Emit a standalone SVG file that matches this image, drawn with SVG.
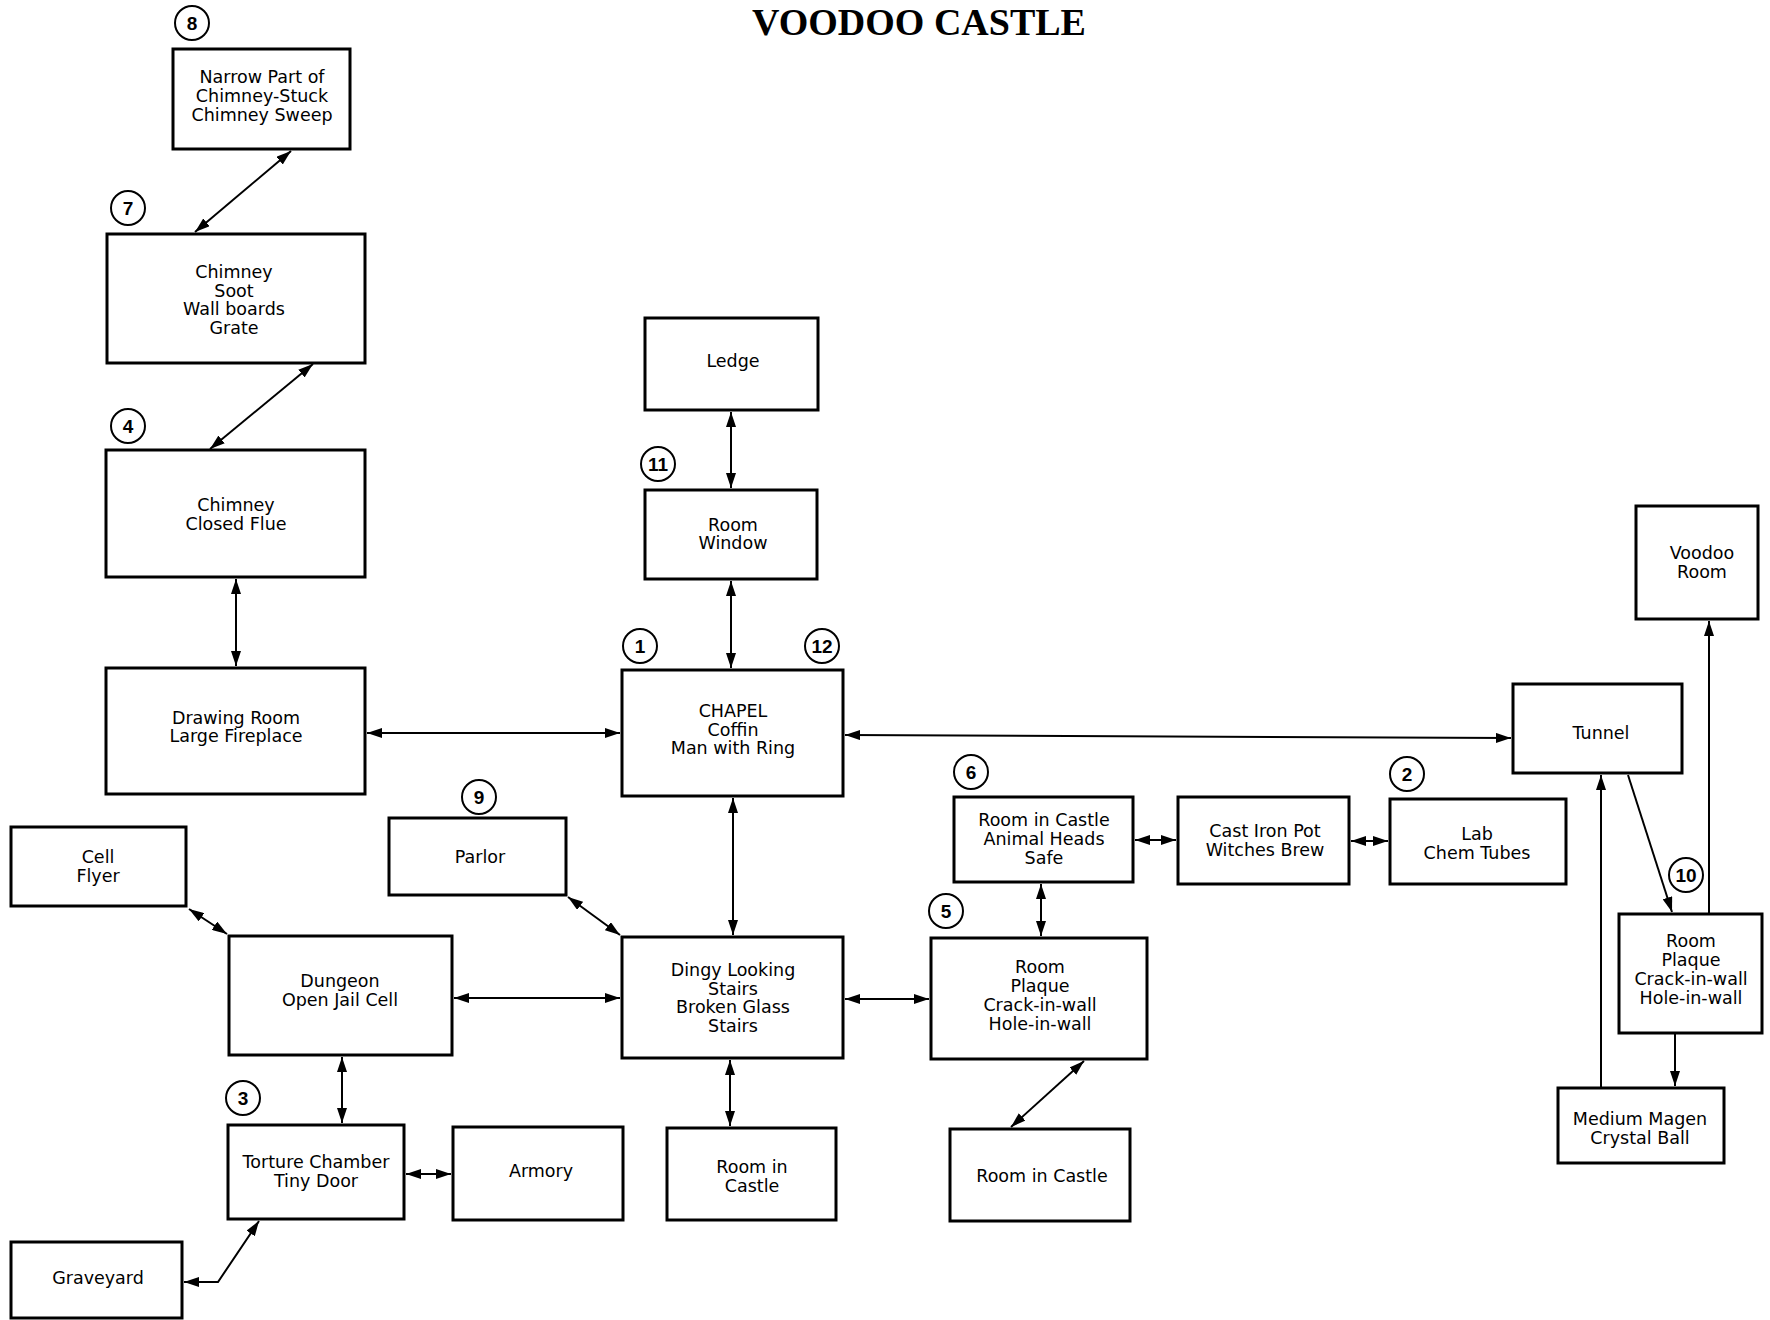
<svg xmlns="http://www.w3.org/2000/svg" width="1770" height="1320" viewBox="0 0 1770 1320">
<style>
.box{fill:#fff;stroke:#000;stroke-width:3}
.t{font-family:"DejaVu Sans","Liberation Sans",sans-serif;font-size:17.5px;fill:#000;text-anchor:middle}
.num{font-family:"Liberation Sans",Arial,sans-serif;font-size:19px;font-weight:bold;fill:#000;text-anchor:middle}
.c{fill:#fff;stroke:#000;stroke-width:2}
.ln{fill:none;stroke:#000;stroke-width:2}
.title{font-family:"Liberation Serif","Times New Roman",serif;font-size:38px;font-weight:bold;fill:#000;text-anchor:middle}
</style>
<defs>
<marker id="ah" markerUnits="userSpaceOnUse" markerWidth="15" markerHeight="10" viewBox="0 0 15 10" refX="15" refY="5" orient="auto-start-reverse">
<path d="M0,0 L15,5 L0,10 z" fill="#000"/>
</marker>
</defs>
<rect width="1770" height="1320" fill="#fff"/>
<text class="title" x="919" y="35">VOODOO CASTLE</text>

<g id="connectors">
<line class="ln" x1="291" y1="151" x2="195" y2="232" marker-start="url(#ah)" marker-end="url(#ah)"/>
<line class="ln" x1="313" y1="364" x2="210" y2="449" marker-start="url(#ah)" marker-end="url(#ah)"/>
<line class="ln" x1="236" y1="579" x2="236" y2="666" marker-start="url(#ah)" marker-end="url(#ah)"/>
<line class="ln" x1="367" y1="733" x2="620" y2="733" marker-start="url(#ah)" marker-end="url(#ah)"/>
<line class="ln" x1="731" y1="412" x2="731" y2="488" marker-start="url(#ah)" marker-end="url(#ah)"/>
<line class="ln" x1="731" y1="581" x2="731" y2="668" marker-start="url(#ah)" marker-end="url(#ah)"/>
<line class="ln" x1="845" y1="735" x2="1511" y2="738" marker-start="url(#ah)" marker-end="url(#ah)"/>
<line class="ln" x1="733" y1="798" x2="733" y2="935" marker-start="url(#ah)" marker-end="url(#ah)"/>
<line class="ln" x1="568" y1="897" x2="620" y2="935" marker-start="url(#ah)" marker-end="url(#ah)"/>
<line class="ln" x1="454" y1="998" x2="620" y2="998" marker-start="url(#ah)" marker-end="url(#ah)"/>
<line class="ln" x1="189" y1="909" x2="227" y2="934" marker-start="url(#ah)" marker-end="url(#ah)"/>
<line class="ln" x1="342" y1="1057" x2="342" y2="1123" marker-start="url(#ah)" marker-end="url(#ah)"/>
<line class="ln" x1="406" y1="1174" x2="451" y2="1174" marker-start="url(#ah)" marker-end="url(#ah)"/>
<polyline class="ln" points="259,1221 218,1282 184,1282" marker-start="url(#ah)" marker-end="url(#ah)"/>
<line class="ln" x1="730" y1="1060" x2="730" y2="1126" marker-start="url(#ah)" marker-end="url(#ah)"/>
<line class="ln" x1="845" y1="999" x2="929" y2="999" marker-start="url(#ah)" marker-end="url(#ah)"/>
<line class="ln" x1="1084" y1="1061" x2="1011" y2="1127" marker-start="url(#ah)" marker-end="url(#ah)"/>
<line class="ln" x1="1041" y1="884" x2="1041" y2="936" marker-start="url(#ah)" marker-end="url(#ah)"/>
<line class="ln" x1="1135" y1="840" x2="1176" y2="840" marker-start="url(#ah)" marker-end="url(#ah)"/>
<line class="ln" x1="1351" y1="841" x2="1388" y2="841" marker-start="url(#ah)" marker-end="url(#ah)"/>
<line class="ln" x1="1628" y1="775" x2="1672" y2="912" marker-end="url(#ah)"/>
<line class="ln" x1="1709" y1="914" x2="1709" y2="621" marker-end="url(#ah)"/>
<line class="ln" x1="1675" y1="1033" x2="1675" y2="1086" marker-end="url(#ah)"/>
<line class="ln" x1="1601" y1="1088" x2="1601" y2="775" marker-end="url(#ah)"/>
</g>

<g id="n8">
<circle class="c" cx="192" cy="23" r="17"/><text class="num" x="192" y="30">8</text>
<rect class="box" x="173" y="49" width="177" height="100"/>
<text class="t" x="262" y="83">Narrow Part of</text>
<text class="t" x="262" y="102">Chimney-Stuck</text>
<text class="t" x="262" y="121">Chimney Sweep</text>
</g>
<g id="n7">
<circle class="c" cx="128" cy="208" r="17"/><text class="num" x="128" y="215">7</text>
<rect class="box" x="107" y="234" width="258" height="129"/>
<text class="t" x="234" y="278">Chimney</text>
<text class="t" x="234" y="297">Soot</text>
<text class="t" x="234" y="315">Wall boards</text>
<text class="t" x="234" y="334">Grate</text>
</g>
<g id="n4">
<circle class="c" cx="128" cy="426" r="17"/><text class="num" x="128" y="433">4</text>
<rect class="box" x="106" y="450" width="259" height="127"/>
<text class="t" x="236" y="511">Chimney</text>
<text class="t" x="236" y="530">Closed Flue</text>
</g>
<g id="drawing">
<rect class="box" x="106" y="668" width="259" height="126"/>
<text class="t" x="236" y="724">Drawing Room</text>
<text class="t" x="236" y="742">Large Fireplace</text>
</g>
<g id="ledge">
<rect class="box" x="645" y="318" width="173" height="92"/>
<text class="t" x="733" y="367">Ledge</text>
</g>
<g id="n11">
<circle class="c" cx="658" cy="464" r="17"/><text class="num" x="658" y="471">11</text>
<rect class="box" x="645" y="490" width="172" height="89"/>
<text class="t" x="733" y="531">Room</text>
<text class="t" x="733" y="549">Window</text>
</g>
<g id="chapel">
<circle class="c" cx="640" cy="646" r="17"/><text class="num" x="640" y="653">1</text>
<circle class="c" cx="822" cy="646" r="17"/><text class="num" x="822" y="653">12</text>
<rect class="box" x="622" y="670" width="221" height="126"/>
<text class="t" x="733" y="717">CHAPEL</text>
<text class="t" x="733" y="736">Coffin</text>
<text class="t" x="733" y="754">Man with Ring</text>
</g>
<g id="tunnel">
<rect class="box" x="1513" y="684" width="169" height="89"/>
<text class="t" x="1601" y="739">Tunnel</text>
</g>
<g id="voodoo">
<rect class="box" x="1636" y="506" width="122" height="113"/>
<text class="t" x="1702" y="559">Voodoo</text>
<text class="t" x="1702" y="578">Room</text>
</g>
<g id="n10">
<circle class="c" cx="1686" cy="875" r="17"/><text class="num" x="1686" y="882">10</text>
<rect class="box" x="1619" y="914" width="143" height="119"/>
<text class="t" x="1691" y="947">Room</text>
<text class="t" x="1691" y="966">Plaque</text>
<text class="t" x="1691" y="985">Crack-in-wall</text>
<text class="t" x="1691" y="1004">Hole-in-wall</text>
</g>
<g id="medium">
<rect class="box" x="1558" y="1088" width="166" height="75"/>
<text class="t" x="1640" y="1125">Medium Magen</text>
<text class="t" x="1640" y="1144">Crystal Ball</text>
</g>
<g id="n2">
<circle class="c" cx="1407" cy="774" r="17"/><text class="num" x="1407" y="781">2</text>
<rect class="box" x="1390" y="799" width="176" height="85"/>
<text class="t" x="1477" y="840">Lab</text>
<text class="t" x="1477" y="859">Chem Tubes</text>
</g>
<g id="cast">
<rect class="box" x="1178" y="797" width="171" height="87"/>
<text class="t" x="1265" y="837">Cast Iron Pot</text>
<text class="t" x="1265" y="856">Witches Brew</text>
</g>
<g id="n6">
<circle class="c" cx="971" cy="772" r="17"/><text class="num" x="971" y="779">6</text>
<rect class="box" x="954" y="797" width="179" height="85"/>
<text class="t" x="1044" y="826">Room in Castle</text>
<text class="t" x="1044" y="845">Animal Heads</text>
<text class="t" x="1044" y="864">Safe</text>
</g>
<g id="n5">
<circle class="c" cx="946" cy="911" r="17"/><text class="num" x="946" y="918">5</text>
<rect class="box" x="931" y="938" width="216" height="121"/>
<text class="t" x="1040" y="973">Room</text>
<text class="t" x="1040" y="992">Plaque</text>
<text class="t" x="1040" y="1011">Crack-in-wall</text>
<text class="t" x="1040" y="1030">Hole-in-wall</text>
</g>
<g id="roomcastle-br">
<rect class="box" x="950" y="1129" width="180" height="92"/>
<text class="t" x="1042" y="1182">Room in Castle</text>
</g>
<g id="dingy">
<rect class="box" x="622" y="937" width="221" height="121"/>
<text class="t" x="733" y="976">Dingy Looking</text>
<text class="t" x="733" y="995">Stairs</text>
<text class="t" x="733" y="1013">Broken Glass</text>
<text class="t" x="733" y="1032">Stairs</text>
</g>
<g id="roomcastle-bc">
<rect class="box" x="667" y="1128" width="169" height="92"/>
<text class="t" x="752" y="1173">Room in</text>
<text class="t" x="752" y="1192">Castle</text>
</g>
<g id="n9">
<circle class="c" cx="479" cy="797" r="17"/><text class="num" x="479" y="804">9</text>
<rect class="box" x="389" y="818" width="177" height="77"/>
<text class="t" x="480" y="863">Parlor</text>
</g>
<g id="dungeon">
<rect class="box" x="229" y="936" width="223" height="119"/>
<text class="t" x="340" y="987">Dungeon</text>
<text class="t" x="340" y="1006">Open Jail Cell</text>
</g>
<g id="cell">
<rect class="box" x="11" y="827" width="175" height="79"/>
<text class="t" x="98" y="863">Cell</text>
<text class="t" x="98" y="882">Flyer</text>
</g>
<g id="n3">
<circle class="c" cx="243" cy="1098" r="17"/><text class="num" x="243" y="1105">3</text>
<rect class="box" x="228" y="1125" width="176" height="94"/>
<text class="t" x="316" y="1168">Torture Chamber</text>
<text class="t" x="316" y="1187">Tiny Door</text>
</g>
<g id="armory">
<rect class="box" x="453" y="1127" width="170" height="93"/>
<text class="t" x="541" y="1177">Armory</text>
</g>
<g id="graveyard">
<rect class="box" x="11" y="1242" width="171" height="76"/>
<text class="t" x="98" y="1284">Graveyard</text>
</g>
</svg>
